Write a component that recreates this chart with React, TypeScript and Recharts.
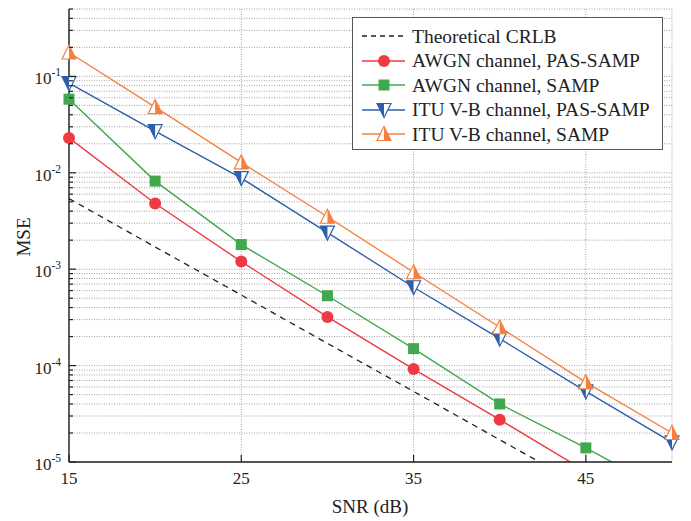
import { LineChart, Line, XAxis, YAxis, CartesianGrid } from 'recharts'

const snr = [15, 20, 25, 30, 35, 40, 45, 50]
const crlb = [5.4e-3, 1.7e-3, 5.4e-4, 1.7e-4, 5.4e-5, 1.7e-5, 5.4e-6, 1.7e-6]
const awgnPas = [2.3e-2, 4.8e-3, 1.2e-3, 3.2e-4, 9.2e-5, 2.75e-5, 8.0e-6, 2.4e-6]
const awgnSamp = [5.8e-2, 8.2e-3, 1.8e-3, 5.3e-4, 1.5e-4, 4.0e-5, 1.4e-5, 4.6e-6]
const ituPas = [8.5e-2, 2.7e-2, 8.8e-3, 2.4e-3, 6.5e-4, 1.9e-4, 5.4e-5, 1.6e-5]
const ituSamp = [1.77e-1, 4.8e-2, 1.28e-2, 3.5e-3, 9.3e-4, 2.5e-4, 6.7e-5, 2.0e-5]
const xTicks = [15, 25, 35, 45]
const decades = [1e-5, 1e-4, 1e-3, 1e-2, 1e-1]
const mantissas = [1, 2, 3, 4, 5, 6, 7, 8, 9]

const yTicks = decades.flatMap((d) => mantissas.map((m) => m * d)).filter((v) => v <= 0.5 + 1e-9)

const data = snr.map((s, i) => ({
  snr: s,
  crlb: crlb[i],
  awgnPas: awgnPas[i],
  awgnSamp: awgnSamp[i],
  ituPas: ituPas[i],
  ituSamp: ituSamp[i],
}))

const RED = '#ee3a43'
const GREEN = '#41a84f'
const BLUE = '#2e5fab'
const ORANGE = '#f4803f'
const INK = '#222'
const FONT = '"Liberation Serif", "DejaVu Serif", serif'

const isMajor = (v: number) => Math.abs(Math.log10(v) - Math.round(Math.log10(v))) < 1e-6

function LeftTick({ x, y, payload }: any) {
  const v = payload.value
  const major = isMajor(v)
  const exp = Math.round(Math.log10(v))
  return (
    <g>
      <line x1={x} x2={x + (major ? 7 : 4)} y1={y} y2={y} stroke={INK} strokeWidth={1.2} />
      {major && (
        <text x={x - 8} y={y + 8} textAnchor="end" fill={INK} style={{ fontFamily: FONT, fontSize: 17 }}>
          <tspan>10</tspan>
          <tspan dy={-8} fontSize={11.5}>{exp}</tspan>
        </text>
      )}
    </g>
  )
}

function RightTick({ x, y, payload }: any) {
  const major = isMajor(payload.value)
  return <line x1={x} x2={x - (major ? 7 : 4)} y1={y} y2={y} stroke={INK} strokeWidth={1.2} />
}

function BottomTick({ x, y, payload }: any) {
  return (
    <g>
      <line x1={x} x2={x} y1={y} y2={y - 7} stroke={INK} strokeWidth={1.2} />
      <text x={x} y={y + 22} textAnchor="middle" fill={INK} style={{ fontFamily: FONT, fontSize: 17 }}>
        {payload.value}
      </text>
    </g>
  )
}

function TopTick({ x, y }: any) {
  return <line x1={x} x2={x} y1={y} y2={y + 7} stroke={INK} strokeWidth={1.2} />
}

function CircleMark({ cx, cy, r = 6 }: any) {
  if (cx == null || cy == null) return null
  return <circle cx={cx} cy={cy} r={r} fill={RED} />
}

function SquareMark({ cx, cy, s = 11 }: any) {
  if (cx == null || cy == null) return null
  return <rect x={cx - s / 2} y={cy - s / 2} width={s} height={s} fill={GREEN} />
}

function DownTri({ cx, cy }: any) {
  if (cx == null || cy == null) return null
  const w = 7
  const h = 6.5
  return (
    <g>
      <polygon points={`${cx - w},${cy - h} ${cx + w},${cy - h} ${cx},${cy + h + 1}`} fill="#fff" />
      <polygon points={`${cx - w},${cy - h} ${cx},${cy - h} ${cx},${cy + h + 1}`} fill={BLUE} />
      <polygon points={`${cx - w},${cy - h} ${cx + w},${cy - h} ${cx},${cy + h + 1}`} fill="none" stroke={BLUE} strokeWidth={1.2} />
    </g>
  )
}

function UpTri({ cx, cy }: any) {
  if (cx == null || cy == null) return null
  const w = 7
  const h = 6.5
  return (
    <g>
      <polygon points={`${cx - w},${cy + h} ${cx + w},${cy + h} ${cx},${cy - h - 1}`} fill="#fff" />
      <polygon points={`${cx},${cy + h} ${cx + w},${cy + h} ${cx},${cy - h - 1}`} fill={ORANGE} />
      <polygon points={`${cx - w},${cy + h} ${cx + w},${cy + h} ${cx},${cy - h - 1}`} fill="none" stroke={ORANGE} strokeWidth={1.2} />
    </g>
  )
}

const legendItems = [
  { name: 'Theoretical CRLB', color: INK, dash: '5 4', Mark: null as any },
  { name: 'AWGN channel, PAS-SAMP', color: RED, dash: undefined, Mark: CircleMark },
  { name: 'AWGN channel, SAMP', color: GREEN, dash: undefined, Mark: SquareMark },
  { name: 'ITU V-B channel, PAS-SAMP', color: BLUE, dash: undefined, Mark: DownTri },
  { name: 'ITU V-B channel, SAMP', color: ORANGE, dash: undefined, Mark: UpTri },
]

function XLabel({ viewBox }: any) {
  return (
    <text x={362} y={viewBox.y + 51} textAnchor="middle" fill={INK} style={{ fontFamily: FONT, fontSize: 19 }}>
      SNR (dB)
    </text>
  )
}

function YLabel() {
  return (
    <text x={15} y={229} transform="rotate(-90 15 229)" textAnchor="middle" dominantBaseline="central" fill={INK} style={{ fontFamily: FONT, fontSize: 19 }}>
      MSE
    </text>
  )
}

export default function App() {
  return (
    <div style={{ position: 'relative', width: 683, height: 513, background: '#fff' }}>
      <LineChart width={683} height={513} data={data} margin={{ top: 1, right: 19, left: 0, bottom: 0 }}>
        <CartesianGrid xAxisId="b" yAxisId="l" stroke="#8c8c8c" strokeDasharray="1 1.5" strokeWidth={0.8} />
        <XAxis
          xAxisId="b"
          dataKey="snr"
          type="number"
          domain={[15, 50]}
          ticks={xTicks}
          interval={0}
          height={59}
          tickSize={0}
          tickMargin={0}
          tickLine={false}
          tick={<BottomTick />}
          axisLine={{ stroke: INK, strokeWidth: 1.4 }}
          label={<XLabel />}
        />
        <XAxis
          xAxisId="t"
          orientation="top"
          dataKey="snr"
          type="number"
          domain={[15, 50]}
          ticks={xTicks}
          interval={0}
          height={0}
          tickSize={0}
          tickMargin={0}
          tickLine={false}
          tick={<TopTick />}
          axisLine={{ stroke: INK, strokeWidth: 1.4 }}
        />
        <YAxis
          yAxisId="l"
          scale="log"
          type="number"
          domain={[1e-5, 0.5]}
          allowDataOverflow
          ticks={yTicks}
          interval={0}
          width={61}
          tickSize={0}
          tickMargin={0}
          tickLine={false}
          tick={<LeftTick />}
          axisLine={{ stroke: INK, strokeWidth: 1.4 }}
          label={<YLabel />}
        />
        <YAxis
          yAxisId="r"
          orientation="right"
          scale="log"
          type="number"
          domain={[1e-5, 0.5]}
          allowDataOverflow
          ticks={yTicks}
          interval={0}
          width={0}
          tickSize={0}
          tickMargin={0}
          tickLine={false}
          tick={<RightTick />}
          axisLine={{ stroke: INK, strokeWidth: 1.4 }}
        />
        <Line xAxisId="b" yAxisId="l" dataKey="crlb" stroke={INK} strokeWidth={1.3} strokeDasharray="6 5" dot={false} isAnimationActive={false} />
        <Line xAxisId="b" yAxisId="l" dataKey="awgnPas" stroke={RED} strokeWidth={1.4} dot={(p: any) => <CircleMark key={p.index} cx={p.cx} cy={p.cy} />} isAnimationActive={false} />
        <Line xAxisId="b" yAxisId="l" dataKey="awgnSamp" stroke={GREEN} strokeWidth={1.4} dot={(p: any) => <SquareMark key={p.index} cx={p.cx} cy={p.cy} />} isAnimationActive={false} />
        <Line xAxisId="b" yAxisId="l" dataKey="ituPas" stroke={BLUE} strokeWidth={1.4} dot={(p: any) => <DownTri key={p.index} cx={p.cx} cy={p.cy} />} isAnimationActive={false} />
        <Line xAxisId="b" yAxisId="l" dataKey="ituSamp" stroke={ORANGE} strokeWidth={1.4} dot={(p: any) => <UpTri key={p.index} cx={p.cx} cy={p.cy} />} isAnimationActive={false} />
      </LineChart>
      <div
        style={{
          position: 'absolute',
          left: 344,
          top: 9,
          width: 311,
          height: 133,
          border: '1.2px solid #555',
          background: '#fff',
          boxSizing: 'border-box',
          paddingTop: 6,
        }}
      >
        {legendItems.map((it) => (
          <div key={it.name} style={{ display: 'flex', alignItems: 'center', height: 24.5 }}>
            <svg width={58} height={24} style={{ flex: 'none' }}>
              <line x1={9} x2={52} y1={12} y2={12} stroke={it.color} strokeWidth={1.4} strokeDasharray={it.dash} />
              {it.Mark && <it.Mark cx={31} cy={12} />}
            </svg>
            <span style={{ fontFamily: FONT, fontSize: 19.5, color: INK, whiteSpace: 'nowrap', marginLeft: 1, lineHeight: 1 }}>{it.name}</span>
          </div>
        ))}
      </div>
    </div>
  )
}
